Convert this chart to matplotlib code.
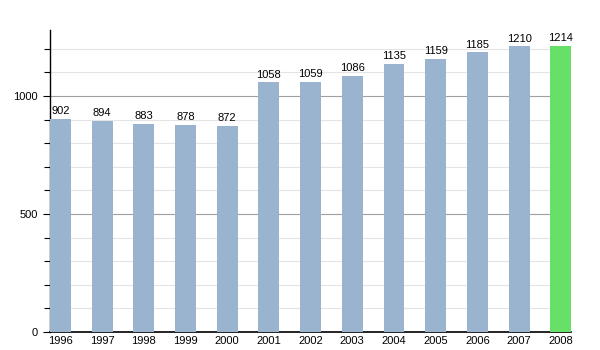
import matplotlib
matplotlib.use('Agg')
import matplotlib.pyplot as plt
from matplotlib.ticker import MultipleLocator

years = ['1996', '1997', '1998', '1999', '2000', '2001', '2002',
         '2003', '2004', '2005', '2006', '2007', '2008']
population = [902, 894, 883, 878, 872, 1058, 1059, 1086, 1135, 1159, 1185, 1210, 1214]

plt.rcParams['font.family'] = ['Liberation Sans', 'DejaVu Sans']

fig = plt.figure(figsize=(6, 3.5), dpi=100)
ax = fig.add_axes([0.0833, 0.0514, 0.8687, 0.863])

x = range(len(years))
colors = ['#9ab3cf'] * (len(years) - 1) + ['#66e066']
ax.bar(x, population, width=0.5, color=colors, zorder=3)

# value on top of each bar
for i, v in enumerate(population):
    ax.text(i, v + 12, str(v), ha='center', va='bottom', fontsize=8, zorder=4)

ax.set_xlim(-0.25, len(years) - 0.75)
ax.set_ylim(0, 1280)
ax.set_xticks(list(x))
ax.set_xticklabels(years, fontsize=8)
ax.yaxis.set_major_locator(MultipleLocator(500))
ax.yaxis.set_minor_locator(MultipleLocator(100))
ax.tick_params(axis='y', labelsize=8, length=5, width=0.8)
ax.tick_params(axis='y', which='minor', length=4, width=0.8)
ax.tick_params(axis='x', length=0, pad=3)

ax.grid(axis='y', which='major', color='#a0a0a0', linewidth=0.8, zorder=1)
ax.grid(axis='y', which='minor', color='#e4e4e4', linewidth=0.8, zorder=1)

for s in ['top', 'right']:
    ax.spines[s].set_visible(False)
ax.spines['left'].set_linewidth(1)
ax.spines['bottom'].set_linewidth(1.2)

fig.savefig('out.png', dpi=100)
